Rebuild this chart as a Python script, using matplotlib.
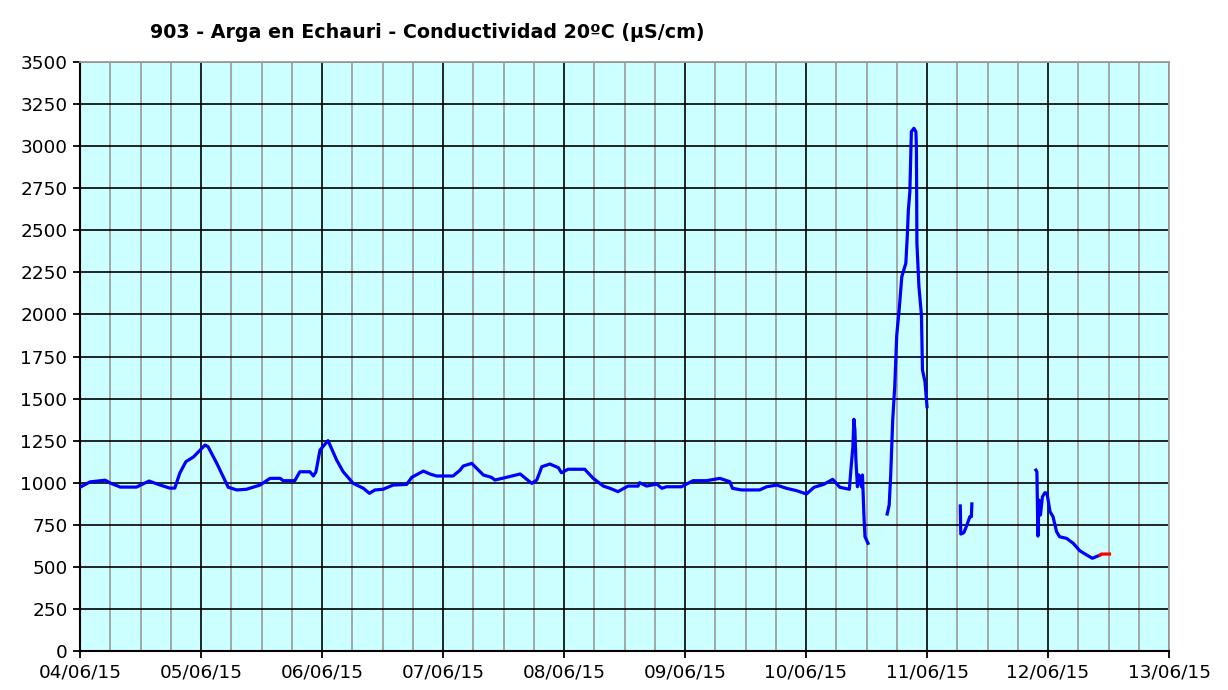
import numpy as np
import matplotlib
matplotlib.use('Agg')
import matplotlib.pyplot as plt
import matplotlib.dates as mdates
from datetime import datetime, timedelta

# hours since 04/06/15 00:00, NaN breaks the line where data is missing
hours = [0, 2, 5, 6, 8, 11.2, 13.7, 15.9, 17.8, 18.8, 19.8, 21, 22.5, 24.8, 25.4,
         27.1, 28.4, 29.4, 31.1, 33, 35.7, 37.7, 39.7, 40.3, 42.6, 43.6, 45.6, 46.3,
         46.8, 47.6, 49.2, 50.9, 52.2, 54.2, 56.2, 57.4, 58.5, 60.1, 62.1, 64.8, 65.8,
         68.1, 69.4, 70.7, 74, 75.4, 76, 77.7, 78.7, 80, 81.6, 82.3, 84.6, 87.3, 89.6,
         90.6, 91.6, 93.2, 94.9, 95.5, 96.8, 100.1, 101.8, 103.8, 105.1, 106.7, 108.7,
         110.7, 111, 112.4, 114.4, 115.4, 116.3, 119.3, 121.6, 124.3, 126.9, 128.9,
         129.4, 131.2, 134.8, 136.2, 138.2, 140.1, 142.1, 144.1, 145.6, 147.5, 149.3,
         150.7, 152.6, 152.9, 153.3, 153.5, 153.7, 153.9, 154.2, 154.5, 155, 155.2,
         155.5, 155.7, 156.3, 158,
         160.1, 160.5, 160.8, 161.2, 161.6, 162, 162.5, 163, 163.8, 164.1, 164.3,
         164.6, 164.9, 165.4, 165.8, 165.9, 166, 166.4, 166.9, 167.1, 167.6, 168, 170,
         174.6, 174.7, 175.3, 175.8, 176.5, 176.8, 176.9, 180,
         189.6, 189.8, 190, 190.2, 190.5, 190.9, 191.4, 191.8, 192.4, 193, 193.7,
         194.3, 195.7, 197, 198.3, 199.7, 200.8, 202.3]
values = [973, 1005, 1015, 998, 974, 974, 1010, 986, 968, 968, 1057, 1125, 1153, 1224, 1214,
          1117, 1036, 973, 957, 961, 986, 1026, 1026, 1012, 1012, 1065, 1065, 1040,
          1065, 1194, 1250, 1135, 1065, 996, 967, 937, 957, 961, 986, 990, 1032,
          1069, 1052, 1040, 1040, 1075, 1099, 1115, 1085, 1046, 1032, 1016, 1032, 1052, 996,
          1016, 1095, 1111, 1089, 1059, 1080, 1080, 1026, 980, 967, 947, 980,
          980, 1000, 980, 992, 967, 976, 976, 1012, 1012, 1026, 1006,
          967, 957, 957, 976, 986, 967, 953, 933, 973, 990, 1020,
          973, 961, 1075, 1214, 1377, 1313, 1135, 976, 1046, 976, 1046,
          798, 679, 640, np.nan,
          814, 868, 1046, 1373, 1571, 1878, 2036, 2224, 2304, 2472, 2620,
          2729, 3086, 3106, 3086, 2996, 2422, 2165, 1996, 1670, 1600, 1452, np.nan,
          862, 695, 703, 739, 798, 798, 874, np.nan,
          1075, 1065, 683, 897, 808, 917, 941, 937, 828, 798, 709,
          679, 669, 640, 596, 570, 551, 570]

# last (provisional) values shown in red
hours_red = [202.3, 202.6, 204.2]
values_red = [570, 576, 576]

start = datetime(2015, 6, 4)
t = [start + timedelta(hours=h) for h in hours]
t_red = [start + timedelta(hours=h) for h in hours_red]

fig = plt.figure(figsize=(12.28, 6.9), dpi=100)
fig.patch.set_facecolor('white')
ax = fig.add_axes([80 / 1228, 39 / 690, 1089 / 1228, 589 / 690])
ax.set_facecolor('#ccffff')

ax.plot(t, values, color='#0000ff', lw=2.3, zorder=3)
ax.plot(t_red, values_red, color='#ff0000', lw=2.3, zorder=3)

ax.set_xlim(start, start + timedelta(days=9))
ax.set_ylim(0, 3500)
ax.set_yticks(np.arange(0, 3501, 250))

ax.xaxis.set_major_locator(mdates.DayLocator())
ax.xaxis.set_major_formatter(mdates.DateFormatter('%d/%m/%y'))
ax.xaxis.set_minor_locator(mdates.HourLocator(byhour=[6, 12, 18]))

ax.grid(which='minor', axis='x', color='#a0a0a0', lw=1.3, zorder=1)
ax.grid(which='major', axis='x', color='black', lw=1.2, zorder=2)
ax.grid(which='major', axis='y', color='black', lw=1.2, zorder=2)
ax.set_axisbelow(True)

ax.tick_params(which='major', direction='out', length=5, width=1.3, color='black',
               labelsize=13.3, pad=4)
ax.tick_params(which='minor', length=0)

for s in ['left', 'bottom']:
    ax.spines[s].set_color('black')
    ax.spines[s].set_linewidth(1.5)
for s in ['top', 'right']:
    ax.spines[s].set_color('#a0a0a0')
    ax.spines[s].set_linewidth(1.3)

fig.text(150 / 1228, 1 - 32 / 690, '903 - Arga en Echauri - Conductividad 20ºC (µS/cm)',
         fontsize=13.7, fontweight='bold', ha='left', va='center')

fig.savefig('out.png', dpi=100, facecolor='white')
